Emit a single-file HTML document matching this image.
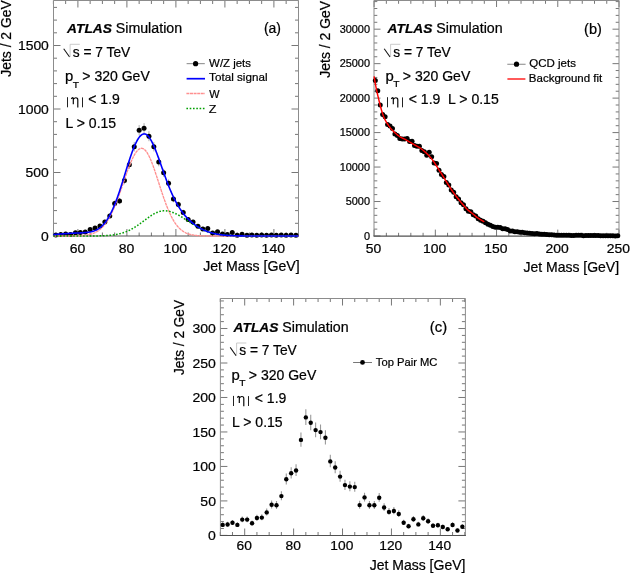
<!DOCTYPE html>
<html><head><meta charset="utf-8"><style>
html,body{margin:0;padding:0;background:#fff;}
svg{display:block;font-family:"Liberation Sans", sans-serif;will-change:transform;}
text{stroke:#000;stroke-width:0.22px;}
</style></head><body>
<svg width="630" height="573" viewBox="0 0 630 573">
<rect width="630" height="573" fill="#fff"/>
<g>
<path d="M53.4 236v-3.5M53.4 0.5v3.5M65.65 236v-3.5M65.65 0.5v3.5M77.9 236v-7M77.9 0.5v7M90.15 236v-3.5M90.15 0.5v3.5M102.4 236v-3.5M102.4 0.5v3.5M114.65 236v-3.5M114.65 0.5v3.5M126.9 236v-7M126.9 0.5v7M139.15 236v-3.5M139.15 0.5v3.5M151.4 236v-3.5M151.4 0.5v3.5M163.65 236v-3.5M163.65 0.5v3.5M175.9 236v-7M175.9 0.5v7M188.15 236v-3.5M188.15 0.5v3.5M200.4 236v-3.5M200.4 0.5v3.5M212.65 236v-3.5M212.65 0.5v3.5M224.9 236v-7M224.9 0.5v7M237.15 236v-3.5M237.15 0.5v3.5M249.4 236v-3.5M249.4 0.5v3.5M261.65 236v-3.5M261.65 0.5v3.5M273.9 236v-7M273.9 0.5v7M286.15 236v-3.5M286.15 0.5v3.5M298.4 236v-3.5M298.4 0.5v3.5M53.5 236h7M298.5 236h-7M53.5 223.3h3.5M298.5 223.3h-3.5M53.5 210.6h3.5M298.5 210.6h-3.5M53.5 197.9h3.5M298.5 197.9h-3.5M53.5 185.2h3.5M298.5 185.2h-3.5M53.5 172.5h7M298.5 172.5h-7M53.5 159.8h3.5M298.5 159.8h-3.5M53.5 147.1h3.5M298.5 147.1h-3.5M53.5 134.4h3.5M298.5 134.4h-3.5M53.5 121.7h3.5M298.5 121.7h-3.5M53.5 109h7M298.5 109h-7M53.5 96.3h3.5M298.5 96.3h-3.5M53.5 83.6h3.5M298.5 83.6h-3.5M53.5 70.9h3.5M298.5 70.9h-3.5M53.5 58.2h3.5M298.5 58.2h-3.5M53.5 45.5h7M298.5 45.5h-7M53.5 32.8h3.5M298.5 32.8h-3.5M53.5 20.1h3.5M298.5 20.1h-3.5M53.5 7.4h3.5M298.5 7.4h-3.5" stroke="#777" stroke-width="1" fill="none"/>
<path d="M53.5 236V0.5H298.5V236" stroke="#8c8c8c" stroke-width="1" fill="none"/>
<path d="M53 236H299" stroke="#505050" stroke-width="1.2" fill="none"/>
<path d="M55.85 234.05V235.95M60.75 233.33V235.47M65.65 232.98V235.22M70.55 233.57V235.63M75.45 231.5V234.1M80.35 231.27V233.93M85.25 230.71V233.49M90.15 227.85V231.15M95.05 226.23V229.77M99.95 224.18V228.02M104.85 219.71V224.09M109.75 213.49V218.51M114.65 200.43V206.57M119.55 197.94V204.26M124.45 176.54V184.26M129.35 160.4V169M134.25 141.95V151.45M139.15 125.07V135.33M144.05 123.13V133.47M148.95 131.2V141.2M153.85 141.95V151.45M158.75 157.53V166.27M163.65 168.72V176.88M168.55 179.43V186.97M173.45 195.76V202.24M178.35 201.37V207.43M183.25 209.71V215.09M188.15 217.28V221.92M193.05 219.71V224.09M197.95 224.4V228.2M202.85 227.2V230.6M207.75 226.88V230.32M212.65 231.83V234.37M217.55 230.38V233.22M222.45 232.86V235.14M227.35 233.57V235.63M232.25 231.05V233.75M237.15 234.3V236.1M242.05 233.21V235.39M246.95 234.3V236.1M251.85 233.93V235.87M256.75 234.3V236.1M261.65 233.93V235.87M266.55 234.3V236.1M271.45 233.93V235.87M276.35 234.3V236.1M281.25 233.93V235.87M286.15 234.3V236.1M291.05 233.93V235.87M295.95 234.3V236.1" stroke="#999" stroke-width="0.8"/>
<g><circle cx="55.85" cy="235" r="2.5"/><circle cx="60.75" cy="234.4" r="2.5"/><circle cx="65.65" cy="234.1" r="2.5"/><circle cx="70.55" cy="234.6" r="2.5"/><circle cx="75.45" cy="232.8" r="2.5"/><circle cx="80.35" cy="232.6" r="2.5"/><circle cx="85.25" cy="232.1" r="2.5"/><circle cx="90.15" cy="229.5" r="2.5"/><circle cx="95.05" cy="228" r="2.5"/><circle cx="99.95" cy="226.1" r="2.5"/><circle cx="104.85" cy="221.9" r="2.5"/><circle cx="109.75" cy="216" r="2.5"/><circle cx="114.65" cy="203.5" r="2.5"/><circle cx="119.55" cy="201.1" r="2.5"/><circle cx="124.45" cy="180.4" r="2.5"/><circle cx="129.35" cy="164.7" r="2.5"/><circle cx="134.25" cy="146.7" r="2.5"/><circle cx="139.15" cy="130.2" r="2.5"/><circle cx="144.05" cy="128.3" r="2.5"/><circle cx="148.95" cy="136.2" r="2.5"/><circle cx="153.85" cy="146.7" r="2.5"/><circle cx="158.75" cy="161.9" r="2.5"/><circle cx="163.65" cy="172.8" r="2.5"/><circle cx="168.55" cy="183.2" r="2.5"/><circle cx="173.45" cy="199" r="2.5"/><circle cx="178.35" cy="204.4" r="2.5"/><circle cx="183.25" cy="212.4" r="2.5"/><circle cx="188.15" cy="219.6" r="2.5"/><circle cx="193.05" cy="221.9" r="2.5"/><circle cx="197.95" cy="226.3" r="2.5"/><circle cx="202.85" cy="228.9" r="2.5"/><circle cx="207.75" cy="228.6" r="2.5"/><circle cx="212.65" cy="233.1" r="2.5"/><circle cx="217.55" cy="231.8" r="2.5"/><circle cx="222.45" cy="234" r="2.5"/><circle cx="227.35" cy="234.6" r="2.5"/><circle cx="232.25" cy="232.4" r="2.5"/><circle cx="237.15" cy="235.2" r="2.5"/><circle cx="242.05" cy="234.3" r="2.5"/><circle cx="246.95" cy="235.2" r="2.5"/><circle cx="251.85" cy="234.9" r="2.5"/><circle cx="256.75" cy="235.2" r="2.5"/><circle cx="261.65" cy="234.9" r="2.5"/><circle cx="266.55" cy="235.2" r="2.5"/><circle cx="271.45" cy="234.9" r="2.5"/><circle cx="276.35" cy="235.2" r="2.5"/><circle cx="281.25" cy="234.9" r="2.5"/><circle cx="286.15" cy="235.2" r="2.5"/><circle cx="291.05" cy="234.9" r="2.5"/><circle cx="295.95" cy="235.2" r="2.5"/></g>
<path d="M53.4 236L54.01 236L54.62 236L55.24 236L55.85 236L56.46 236L57.07 236L57.69 236L58.3 236L58.91 236L59.52 236L60.14 236L60.75 236L61.36 235.99L61.97 235.99L62.59 235.99L63.2 235.99L63.81 235.99L64.42 235.99L65.04 235.99L65.65 235.98L66.26 235.98L66.88 235.98L67.49 235.98L68.1 235.97L68.71 235.97L69.32 235.97L69.94 235.96L70.55 235.96L71.16 235.95L71.77 235.94L72.39 235.93L73 235.92L73.61 235.91L74.22 235.9L74.84 235.89L75.45 235.88L76.06 235.86L76.67 235.84L77.29 235.82L77.9 235.8L78.51 235.78L79.12 235.75L79.74 235.72L80.35 235.69L80.96 235.65L81.57 235.61L82.19 235.56L82.8 235.51L83.41 235.46L84.02 235.39L84.64 235.33L85.25 235.25L85.86 235.17L86.47 235.08L87.09 234.99L87.7 234.88L88.31 234.76L88.92 234.64L89.54 234.5L90.15 234.35L90.76 234.19L91.38 234.01L91.99 233.82L92.6 233.61L93.21 233.39L93.82 233.15L94.44 232.89L95.05 232.61L95.66 232.31L96.27 231.98L96.89 231.64L97.5 231.26L98.11 230.87L98.72 230.44L99.34 229.99L99.95 229.51L100.56 229L101.17 228.45L101.79 227.87L102.4 227.26L103.01 226.61L103.62 225.93L104.24 225.21L104.85 224.45L105.46 223.65L106.07 222.8L106.69 221.92L107.3 221L107.91 220.03L108.52 219.02L109.14 217.96L109.75 216.87L110.36 215.72L110.97 214.54L111.59 213.31L112.2 212.03L112.81 210.72L113.42 209.36L114.04 207.96L114.65 206.52L115.26 205.03L115.88 203.52L116.49 201.96L117.1 200.37L117.71 198.75L118.32 197.1L118.94 195.43L119.55 193.72L120.16 192L120.77 190.26L121.39 188.5L122 186.73L122.61 184.95L123.22 183.16L123.84 181.38L124.45 179.6L125.06 177.82L125.67 176.06L126.29 174.32L126.9 172.59L127.51 170.89L128.12 169.22L128.74 167.58L129.35 165.99L129.96 164.43L130.57 162.92L131.19 161.47L131.8 160.07L132.41 158.74L133.02 157.46L133.64 156.26L134.25 155.13L134.86 154.08L135.47 153.1L136.09 152.21L136.7 151.4L137.31 150.69L137.92 150.06L138.54 149.53L139.15 149.09L139.76 148.74L140.37 148.5L140.99 148.35L141.6 148.3L142.21 148.36L142.82 148.52L143.44 148.8L144.05 149.19L144.66 149.69L145.27 150.29L145.89 151L146.5 151.81L147.11 152.72L147.72 153.72L148.34 154.81L148.95 156L149.56 157.26L150.17 158.61L150.79 160.02L151.4 161.51L152.01 163.06L152.62 164.67L153.24 166.34L153.85 168.05L154.46 169.8L155.07 171.59L155.69 173.41L156.3 175.26L156.91 177.13L157.52 179.01L158.14 180.91L158.75 182.81L159.36 184.71L159.97 186.6L160.59 188.49L161.2 190.36L161.81 192.21L162.42 194.04L163.04 195.85L163.65 197.63L164.26 199.37L164.87 201.08L165.49 202.76L166.1 204.39L166.71 205.98L167.32 207.53L167.94 209.03L168.55 210.49L169.16 211.89L169.77 213.25L170.39 214.56L171 215.82L171.61 217.03L172.22 218.19L172.84 219.3L173.45 220.37L174.06 221.38L174.67 222.34L175.29 223.26L175.9 224.13L176.51 224.96L177.12 225.74L177.74 226.48L178.35 227.17L178.96 227.83L179.57 228.44L180.19 229.02L180.8 229.57L181.41 230.07L182.02 230.55L182.64 230.99L183.25 231.41L183.86 231.79L184.47 232.15L185.09 232.48L185.7 232.79L186.31 233.07L186.92 233.33L187.54 233.57L188.15 233.8L188.76 234L189.38 234.19L189.99 234.36L190.6 234.52L191.21 234.66L191.82 234.8L192.44 234.92L193.05 235.03L193.66 235.13L194.27 235.22L194.89 235.3L195.5 235.37L196.11 235.44L196.72 235.5L197.34 235.55L197.95 235.6L198.56 235.65L199.17 235.69L199.79 235.72L200.4 235.75L201.01 235.78L201.62 235.81L202.24 235.83L202.85 235.85L203.46 235.87L204.07 235.88L204.69 235.9L205.3 235.91L205.91 235.92L206.52 235.93L207.14 235.94L207.75 235.95L208.36 235.96L208.97 235.96L209.59 235.97L210.2 235.97L210.81 235.97L211.42 235.98L212.04 235.98L212.65 235.98L213.26 235.99L213.88 235.99L214.49 235.99L215.1 235.99L215.71 235.99L216.32 235.99L216.94 235.99L217.55 236L218.16 236L218.77 236L219.39 236L220 236L220.61 236L221.22 236L221.84 236L222.45 236L223.06 236L223.67 236L224.29 236L224.9 236L225.51 236L226.12 236L226.74 236L227.35 236L227.96 236L228.57 236L229.19 236L229.8 236L230.41 236L231.02 236L231.64 236L232.25 236L232.86 236L233.47 236L234.09 236L234.7 236L235.31 236L235.92 236L236.54 236L237.15 236L237.76 236L238.37 236L238.99 236L239.6 236L240.21 236L240.82 236L241.44 236L242.05 236L242.66 236L243.27 236L243.89 236L244.5 236L245.11 236L245.72 236L246.34 236L246.95 236L247.56 236L248.17 236L248.79 236L249.4 236L250.01 236L250.62 236L251.24 236L251.85 236L252.46 236L253.07 236L253.69 236L254.3 236L254.91 236L255.52 236L256.14 236L256.75 236L257.36 236L257.97 236L258.59 236L259.2 236L259.81 236L260.42 236L261.04 236L261.65 236L262.26 236L262.87 236L263.49 236L264.1 236L264.71 236L265.32 236L265.94 236L266.55 236L267.16 236L267.77 236L268.39 236L269 236L269.61 236L270.22 236L270.84 236L271.45 236L272.06 236L272.67 236L273.29 236L273.9 236L274.51 236L275.12 236L275.74 236L276.35 236L276.96 236L277.57 236L278.19 236L278.8 236L279.41 236L280.02 236L280.64 236L281.25 236L281.86 236L282.47 236L283.09 236L283.7 236L284.31 236L284.92 236L285.54 236L286.15 236L286.76 236L287.37 236L287.99 236L288.6 236L289.21 236L289.82 236L290.44 236L291.05 236L291.66 236L292.27 236L292.89 236L293.5 236L294.11 236L294.72 236L295.34 236L295.95 236L296.56 236L297.17 236L297.79 236L298.4 236" stroke="#ff8f8f" stroke-width="1.35" fill="none" stroke-dasharray="3 0.6"/>
<path d="M53.4 236L54.01 236L54.62 236L55.24 236L55.85 236L56.46 236L57.07 236L57.69 236L58.3 236L58.91 236L59.52 236L60.14 236L60.75 236L61.36 236L61.97 236L62.59 236L63.2 236L63.81 236L64.42 236L65.04 236L65.65 236L66.26 236L66.88 236L67.49 236L68.1 236L68.71 236L69.32 236L69.94 236L70.55 236L71.16 236L71.77 236L72.39 236L73 236L73.61 236L74.22 236L74.84 236L75.45 236L76.06 236L76.67 236L77.29 236L77.9 236L78.51 236L79.12 236L79.74 236L80.35 236L80.96 235.99L81.57 235.99L82.19 235.99L82.8 235.99L83.41 235.99L84.02 235.99L84.64 235.99L85.25 235.99L85.86 235.99L86.47 235.98L87.09 235.98L87.7 235.98L88.31 235.98L88.92 235.97L89.54 235.97L90.15 235.97L90.76 235.96L91.38 235.96L91.99 235.96L92.6 235.95L93.21 235.94L93.82 235.94L94.44 235.93L95.05 235.92L95.66 235.92L96.27 235.91L96.89 235.9L97.5 235.89L98.11 235.88L98.72 235.86L99.34 235.85L99.95 235.83L100.56 235.82L101.17 235.8L101.79 235.78L102.4 235.76L103.01 235.73L103.62 235.71L104.24 235.68L104.85 235.65L105.46 235.62L106.07 235.59L106.69 235.55L107.3 235.51L107.91 235.47L108.52 235.42L109.14 235.37L109.75 235.32L110.36 235.26L110.97 235.2L111.59 235.13L112.2 235.06L112.81 234.99L113.42 234.91L114.04 234.82L114.65 234.73L115.26 234.64L115.88 234.54L116.49 234.43L117.1 234.31L117.71 234.19L118.32 234.06L118.94 233.93L119.55 233.78L120.16 233.63L120.77 233.47L121.39 233.31L122 233.13L122.61 232.94L123.22 232.75L123.84 232.55L124.45 232.34L125.06 232.11L125.67 231.88L126.29 231.64L126.9 231.39L127.51 231.13L128.12 230.86L128.74 230.58L129.35 230.29L129.96 229.99L130.57 229.67L131.19 229.35L131.8 229.02L132.41 228.68L133.02 228.33L133.64 227.97L134.25 227.6L134.86 227.22L135.47 226.83L136.09 226.43L136.7 226.03L137.31 225.61L137.92 225.19L138.54 224.77L139.15 224.33L139.76 223.89L140.37 223.45L140.99 223L141.6 222.55L142.21 222.09L142.82 221.64L143.44 221.18L144.05 220.72L144.66 220.26L145.27 219.8L145.89 219.34L146.5 218.88L147.11 218.43L147.72 217.98L148.34 217.54L148.95 217.11L149.56 216.68L150.17 216.26L150.79 215.85L151.4 215.45L152.01 215.06L152.62 214.68L153.24 214.32L153.85 213.96L154.46 213.63L155.07 213.31L155.69 213L156.3 212.72L156.91 212.45L157.52 212.19L158.14 211.96L158.75 211.75L159.36 211.56L159.97 211.39L160.59 211.24L161.2 211.11L161.81 211L162.42 210.92L163.04 210.86L163.65 210.82L164.26 210.8L164.87 210.81L165.49 210.83L166.1 210.87L166.71 210.93L167.32 211L167.94 211.1L168.55 211.21L169.16 211.34L169.77 211.48L170.39 211.64L171 211.82L171.61 212.01L172.22 212.22L172.84 212.44L173.45 212.68L174.06 212.93L174.67 213.19L175.29 213.47L175.9 213.76L176.51 214.06L177.12 214.38L177.74 214.7L178.35 215.03L178.96 215.37L179.57 215.73L180.19 216.09L180.8 216.45L181.41 216.83L182.02 217.21L182.64 217.59L183.25 217.98L183.86 218.38L184.47 218.78L185.09 219.18L185.7 219.58L186.31 219.98L186.92 220.39L187.54 220.8L188.15 221.2L188.76 221.61L189.38 222.01L189.99 222.42L190.6 222.82L191.21 223.21L191.82 223.61L192.44 224L193.05 224.39L193.66 224.77L194.27 225.15L194.89 225.52L195.5 225.88L196.11 226.24L196.72 226.6L197.34 226.95L197.95 227.29L198.56 227.62L199.17 227.95L199.79 228.27L200.4 228.58L201.01 228.89L201.62 229.18L202.24 229.47L202.85 229.75L203.46 230.03L204.07 230.29L204.69 230.55L205.3 230.8L205.91 231.04L206.52 231.28L207.14 231.5L207.75 231.72L208.36 231.93L208.97 232.13L209.59 232.33L210.2 232.52L210.81 232.7L211.42 232.87L212.04 233.04L212.65 233.2L213.26 233.35L213.88 233.5L214.49 233.64L215.1 233.77L215.71 233.9L216.32 234.02L216.94 234.13L217.55 234.25L218.16 234.35L218.77 234.45L219.39 234.55L220 234.64L220.61 234.72L221.22 234.8L221.84 234.88L222.45 234.95L223.06 235.02L223.67 235.08L224.29 235.14L224.9 235.2L225.51 235.26L226.12 235.31L226.74 235.35L227.35 235.4L227.96 235.44L228.57 235.48L229.19 235.52L229.8 235.55L230.41 235.59L231.02 235.62L231.64 235.65L232.25 235.67L232.86 235.7L233.47 235.72L234.09 235.74L234.7 235.76L235.31 235.78L235.92 235.8L236.54 235.81L237.15 235.83L237.76 235.84L238.37 235.86L238.99 235.87L239.6 235.88L240.21 235.89L240.82 235.9L241.44 235.91L242.05 235.91L242.66 235.92L243.27 235.93L243.89 235.93L244.5 235.94L245.11 235.95L245.72 235.95L246.34 235.96L246.95 235.96L247.56 235.96L248.17 235.97L248.79 235.97L249.4 235.97L250.01 235.97L250.62 235.98L251.24 235.98L251.85 235.98L252.46 235.98L253.07 235.98L253.69 235.99L254.3 235.99L254.91 235.99L255.52 235.99L256.14 235.99L256.75 235.99L257.36 235.99L257.97 235.99L258.59 235.99L259.2 235.99L259.81 236L260.42 236L261.04 236L261.65 236L262.26 236L262.87 236L263.49 236L264.1 236L264.71 236L265.32 236L265.94 236L266.55 236L267.16 236L267.77 236L268.39 236L269 236L269.61 236L270.22 236L270.84 236L271.45 236L272.06 236L272.67 236L273.29 236L273.9 236L274.51 236L275.12 236L275.74 236L276.35 236L276.96 236L277.57 236L278.19 236L278.8 236L279.41 236L280.02 236L280.64 236L281.25 236L281.86 236L282.47 236L283.09 236L283.7 236L284.31 236L284.92 236L285.54 236L286.15 236L286.76 236L287.37 236L287.99 236L288.6 236L289.21 236L289.82 236L290.44 236L291.05 236L291.66 236L292.27 236L292.89 236L293.5 236L294.11 236L294.72 236L295.34 236L295.95 236L296.56 236L297.17 236L297.79 236L298.4 236" stroke="#00a000" stroke-width="1.5" fill="none" stroke-dasharray="1.6 1.7"/>
<path d="M53.4 234.6L54.01 234.55L54.62 234.5L55.24 234.45L55.85 234.4L56.46 234.35L57.07 234.3L57.69 234.25L58.3 234.2L58.91 234.15L59.52 234.1L60.14 234.05L60.75 234L61.36 233.95L61.97 233.91L62.59 233.86L63.2 233.81L63.81 233.76L64.42 233.72L65.04 233.67L65.65 233.63L66.26 233.59L66.88 233.55L67.49 233.51L68.1 233.47L68.71 233.43L69.32 233.39L69.94 233.36L70.55 233.32L71.16 233.29L71.77 233.26L72.39 233.23L73 233.2L73.61 233.17L74.22 233.15L74.84 233.12L75.45 233.09L76.06 233.07L76.67 233.05L77.29 233.02L77.9 233L78.51 232.97L79.12 232.95L79.74 232.93L80.35 232.9L80.96 232.87L81.57 232.84L82.19 232.81L82.8 232.78L83.41 232.74L84.02 232.7L84.64 232.66L85.25 232.61L85.86 232.56L86.47 232.5L87.09 232.43L87.7 232.35L88.31 232.27L88.92 232.18L89.54 232.08L90.15 231.96L90.76 231.84L91.38 231.7L91.99 231.55L92.6 231.38L93.21 231.2L93.82 231L94.44 230.78L95.05 230.54L95.66 230.28L96.27 230L96.89 229.69L97.5 229.36L98.11 229L98.72 228.61L99.34 228.19L99.95 227.75L100.56 227.27L101.17 226.75L101.79 226.21L102.4 225.62L103.01 225L103.62 224.34L104.24 223.64L104.85 222.89L105.46 222.1L106.07 221.27L106.69 220.4L107.3 219.48L107.91 218.51L108.52 217.49L109.14 216.43L109.75 215.32L110.36 214.16L110.97 212.95L111.59 211.69L112.2 210.38L112.81 209.02L113.42 207.62L114.04 206.16L114.65 204.66L115.26 203.12L115.88 201.52L116.49 199.89L117.1 198.21L117.71 196.5L118.32 194.74L118.94 192.95L119.55 191.13L120.16 189.28L120.77 187.4L121.39 185.49L122 183.56L122.61 181.62L123.22 179.66L123.84 177.68L124.45 175.71L125.06 173.73L125.67 171.75L126.29 169.77L126.9 167.81L127.51 165.86L128.12 163.93L128.74 162.02L129.35 160.14L129.96 158.29L130.57 156.49L131.19 154.72L131.8 153L132.41 151.32L133.02 149.71L133.64 148.15L134.25 146.65L134.86 145.23L135.47 143.87L136.09 142.58L136.7 141.38L137.31 140.25L137.92 139.21L138.54 138.25L139.15 137.38L139.76 136.6L140.37 135.92L140.99 135.32L141.6 134.82L142.21 134.43L142.82 134.14L143.44 133.96L144.05 133.89L144.66 133.93L145.27 134.07L145.89 134.32L146.5 134.68L147.11 135.14L147.72 135.69L148.34 136.35L148.95 137.09L149.56 137.93L150.17 138.86L150.79 139.87L151.4 140.95L152.01 142.12L152.62 143.35L153.24 144.65L153.85 146.01L154.46 147.43L155.07 148.9L155.69 150.41L156.3 151.97L156.91 153.57L157.52 155.21L158.14 156.87L158.75 158.56L159.36 160.26L159.97 161.98L160.59 163.72L161.2 165.46L161.81 167.21L162.42 168.96L163.04 170.7L163.65 172.44L164.26 174.17L164.87 175.89L165.49 177.58L166.1 179.26L166.71 180.91L167.32 182.53L167.94 184.13L168.55 185.69L169.16 187.23L169.77 188.73L170.39 190.2L171 191.64L171.61 193.04L172.22 194.41L172.84 195.75L173.45 197.04L174.06 198.31L174.67 199.54L175.29 200.73L175.9 201.89L176.51 203.02L177.12 204.11L177.74 205.17L178.35 206.2L178.96 207.2L179.57 208.17L180.19 209.11L180.8 210.02L181.41 210.9L182.02 211.76L182.64 212.58L183.25 213.39L183.86 214.17L184.47 214.92L185.09 215.65L185.7 216.36L186.31 217.05L186.92 217.72L187.54 218.37L188.15 219L188.76 219.61L189.38 220.2L189.99 220.78L190.6 221.34L191.21 221.88L191.82 222.4L192.44 222.92L193.05 223.41L193.66 223.89L194.27 224.36L194.89 224.81L195.5 225.26L196.11 225.68L196.72 226.1L197.34 226.5L197.95 226.89L198.56 227.27L199.17 227.64L199.79 227.99L200.4 228.34L201.01 228.67L201.62 228.99L202.24 229.3L202.85 229.6L203.46 229.9L204.07 230.18L204.69 230.45L205.3 230.71L205.91 230.96L206.52 231.21L207.14 231.44L207.75 231.67L208.36 231.89L208.97 232.09L209.59 232.29L210.2 232.49L210.81 232.67L211.42 232.85L212.04 233.02L212.65 233.18L213.26 233.34L213.88 233.48L214.49 233.63L215.1 233.76L215.71 233.89L216.32 234.01L216.94 234.13L217.55 234.24L218.16 234.35L218.77 234.45L219.39 234.54L220 234.63L220.61 234.72L221.22 234.8L221.84 234.88L222.45 234.95L223.06 235.02L223.67 235.08L224.29 235.14L224.9 235.2L225.51 235.26L226.12 235.31L226.74 235.35L227.35 235.4L227.96 235.44L228.57 235.48L229.19 235.52L229.8 235.55L230.41 235.59L231.02 235.62L231.64 235.65L232.25 235.67L232.86 235.7L233.47 235.72L234.09 235.74L234.7 235.76L235.31 235.78L235.92 235.8L236.54 235.81L237.15 235.83L237.76 235.84L238.37 235.86L238.99 235.87L239.6 235.88L240.21 235.89L240.82 235.9L241.44 235.91L242.05 235.91L242.66 235.92L243.27 235.93L243.89 235.93L244.5 235.94L245.11 235.95L245.72 235.95L246.34 235.96L246.95 235.96L247.56 235.96L248.17 235.97L248.79 235.97L249.4 235.97L250.01 235.97L250.62 235.98L251.24 235.98L251.85 235.98L252.46 235.98L253.07 235.98L253.69 235.99L254.3 235.99L254.91 235.99L255.52 235.99L256.14 235.99L256.75 235.99L257.36 235.99L257.97 235.99L258.59 235.99L259.2 235.99L259.81 236L260.42 236L261.04 236L261.65 236L262.26 236L262.87 236L263.49 236L264.1 236L264.71 236L265.32 236L265.94 236L266.55 236L267.16 236L267.77 236L268.39 236L269 236L269.61 236L270.22 236L270.84 236L271.45 236L272.06 236L272.67 236L273.29 236L273.9 236L274.51 236L275.12 236L275.74 236L276.35 236L276.96 236L277.57 236L278.19 236L278.8 236L279.41 236L280.02 236L280.64 236L281.25 236L281.86 236L282.47 236L283.09 236L283.7 236L284.31 236L284.92 236L285.54 236L286.15 236L286.76 236L287.37 236L287.99 236L288.6 236L289.21 236L289.82 236L290.44 236L291.05 236L291.66 236L292.27 236L292.89 236L293.5 236L294.11 236L294.72 236L295.34 236L295.95 236L296.56 236L297.17 236L297.79 236L298.4 236" stroke="#0000ff" stroke-width="1.6" fill="none"/>
<text x="41.1" y="240.6" font-size="13" textLength="7.74" lengthAdjust="spacingAndGlyphs">0</text>
<text x="25.63" y="177.1" font-size="13" textLength="23.21" lengthAdjust="spacingAndGlyphs">500</text>
<text x="17.91" y="113.6" font-size="13" textLength="30.95" lengthAdjust="spacingAndGlyphs">1000</text>
<text x="17.91" y="50.1" font-size="13" textLength="30.95" lengthAdjust="spacingAndGlyphs">1500</text>
<text x="69.72" y="253" font-size="13" textLength="15.62" lengthAdjust="spacingAndGlyphs">60</text>
<text x="118.77" y="253" font-size="13" textLength="15.62" lengthAdjust="spacingAndGlyphs">80</text>
<text x="163.63" y="253" font-size="13" textLength="23.43" lengthAdjust="spacingAndGlyphs">100</text>
<text x="212.63" y="253" font-size="13" textLength="23.43" lengthAdjust="spacingAndGlyphs">120</text>
<text x="261.63" y="253" font-size="13" textLength="23.43" lengthAdjust="spacingAndGlyphs">140</text>
<text x="203.19" y="271.4" font-size="13.9" textLength="96.41" lengthAdjust="spacingAndGlyphs">Jet Mass [GeV]</text>
<text transform="translate(10.9 76.71) rotate(-90)" font-size="14.3" textLength="76.48" lengthAdjust="spacingAndGlyphs">Jets / 2 GeV</text>
<text x="67.08" y="32.9" font-size="13.6" font-weight="bold" font-style="italic" textLength="44.85" lengthAdjust="spacingAndGlyphs">ATLAS</text>
<text x="115.76" y="32.9" font-size="13.8" textLength="66.35" lengthAdjust="spacingAndGlyphs">Simulation</text>
<path d="M63.7 48.7L69.6 57" stroke="#111" stroke-width="1.05" fill="none"/>
<path d="M70.1 57V44.3H79.8" stroke="#b4b4b4" stroke-width="0.7" fill="none"/>
<text x="72.72" y="56.7" font-size="13.8" textLength="57.53" lengthAdjust="spacingAndGlyphs">s = 7 TeV</text>
<text x="65.13" y="81.2" font-size="13.8" textLength="8.28" lengthAdjust="spacingAndGlyphs">p</text>
<text x="72.77" y="87.5" font-size="9.6" textLength="6.27" lengthAdjust="spacingAndGlyphs">T</text>
<text x="82.3" y="81.2" font-size="13.8" textLength="67.46" lengthAdjust="spacingAndGlyphs">&gt; 320 GeV</text>
<path d="M67.5 97.2V107.3M82.5 97.4V107.3" stroke="#222" stroke-width="1" fill="none"/>
<path d="M71.2 98.8L72.5 97.7L73.3 98.1V104.3M73.3 99.7C73.9 97.4 77.8 96.9 77.8 99.7V107.6" stroke="#000" stroke-width="1.15" fill="none"/>
<text x="88.3" y="104.3" font-size="13.8" textLength="31.56" lengthAdjust="spacingAndGlyphs">&lt; 1.9</text>
<text x="65.64" y="128" font-size="13.8" textLength="50.52" lengthAdjust="spacingAndGlyphs">L &gt; 0.15</text>
<text x="263.93" y="33.2" font-size="13.8" textLength="17.11" lengthAdjust="spacingAndGlyphs">(a)</text>
<path d="M186.6 63.6H204.8" stroke="#9a9a9a" stroke-width="1.2"/><circle cx="195.6" cy="63.7" r="2.6"/>
<path d="M186.6 78.7H205" stroke="#0000ff" stroke-width="1.7"/>
<path d="M186.4 93.5H205" stroke="#ff8f8f" stroke-width="1.35" stroke-dasharray="3 0.6"/>
<path d="M186.4 108.5H205" stroke="#00a000" stroke-width="1.5" stroke-dasharray="1.6 1.7"/>
<text x="209.14" y="67" font-size="11.4" textLength="41.85" lengthAdjust="spacingAndGlyphs">W/Z jets</text>
<text x="209.14" y="81.2" font-size="11.4" textLength="58.36" lengthAdjust="spacingAndGlyphs">Total signal</text>
<text x="209.15" y="97.5" font-size="11.4" textLength="10.3" lengthAdjust="spacingAndGlyphs">W</text>
<text x="208.79" y="112.6" font-size="11.4" textLength="7.7" lengthAdjust="spacingAndGlyphs">Z</text>
</g>
<g>
<path d="M374.1 236.1v-6.5M374.1 0.5v6.5M386.35 236.1v-3.3M386.35 0.5v3.3M398.59 236.1v-3.3M398.59 0.5v3.3M410.84 236.1v-3.3M410.84 0.5v3.3M423.08 236.1v-3.3M423.08 0.5v3.3M435.33 236.1v-6.5M435.33 0.5v6.5M447.57 236.1v-3.3M447.57 0.5v3.3M459.82 236.1v-3.3M459.82 0.5v3.3M472.06 236.1v-3.3M472.06 0.5v3.3M484.31 236.1v-3.3M484.31 0.5v3.3M496.55 236.1v-6.5M496.55 0.5v6.5M508.8 236.1v-3.3M508.8 0.5v3.3M521.04 236.1v-3.3M521.04 0.5v3.3M533.28 236.1v-3.3M533.28 0.5v3.3M545.53 236.1v-3.3M545.53 0.5v3.3M557.78 236.1v-6.5M557.78 0.5v6.5M570.02 236.1v-3.3M570.02 0.5v3.3M582.26 236.1v-3.3M582.26 0.5v3.3M594.51 236.1v-3.3M594.51 0.5v3.3M606.75 236.1v-3.3M606.75 0.5v3.3M619 236.1v-6.5M619 0.5v6.5M374 236h6.5M619 236h-6.5M374 229.11h3.3M619 229.11h-3.3M374 222.21h3.3M619 222.21h-3.3M374 215.32h3.3M619 215.32h-3.3M374 208.42h3.3M619 208.42h-3.3M374 201.53h6.5M619 201.53h-6.5M374 194.64h3.3M619 194.64h-3.3M374 187.74h3.3M619 187.74h-3.3M374 180.85h3.3M619 180.85h-3.3M374 173.95h3.3M619 173.95h-3.3M374 167.06h6.5M619 167.06h-6.5M374 160.17h3.3M619 160.17h-3.3M374 153.27h3.3M619 153.27h-3.3M374 146.38h3.3M619 146.38h-3.3M374 139.48h3.3M619 139.48h-3.3M374 132.59h6.5M619 132.59h-6.5M374 125.7h3.3M619 125.7h-3.3M374 118.8h3.3M619 118.8h-3.3M374 111.91h3.3M619 111.91h-3.3M374 105.01h3.3M619 105.01h-3.3M374 98.12h6.5M619 98.12h-6.5M374 91.23h3.3M619 91.23h-3.3M374 84.33h3.3M619 84.33h-3.3M374 77.44h3.3M619 77.44h-3.3M374 70.54h3.3M619 70.54h-3.3M374 63.65h6.5M619 63.65h-6.5M374 56.76h3.3M619 56.76h-3.3M374 49.86h3.3M619 49.86h-3.3M374 42.97h3.3M619 42.97h-3.3M374 36.07h3.3M619 36.07h-3.3M374 29.18h6.5M619 29.18h-6.5M374 22.29h3.3M619 22.29h-3.3M374 15.39h3.3M619 15.39h-3.3M374 8.5h3.3M619 8.5h-3.3M374 1.6h3.3M619 1.6h-3.3" stroke="#777" stroke-width="1" fill="none"/>
<path d="M374 236.1V0.5H619V236.1" stroke="#8c8c8c" stroke-width="1" fill="none"/>
<path d="M373.5 236.1H619.5" stroke="#505050" stroke-width="1.2" fill="none"/>
<g><circle cx="375.32" cy="80.5" r="2.5"/><circle cx="377.77" cy="90.7" r="2.5"/><circle cx="380.22" cy="104.9" r="2.5"/><circle cx="382.67" cy="114.4" r="2.5"/><circle cx="385.12" cy="116.8" r="2.5"/><circle cx="387.57" cy="124.5" r="2.5"/><circle cx="390.02" cy="125.9" r="2.5"/><circle cx="392.47" cy="128.6" r="2.5"/><circle cx="394.92" cy="134" r="2.5"/><circle cx="397.37" cy="135.5" r="2.5"/><circle cx="399.81" cy="138.6" r="2.5"/><circle cx="402.26" cy="139.1" r="2.5"/><circle cx="404.71" cy="139" r="2.5"/><circle cx="407.16" cy="138.4" r="2.5"/><circle cx="409.61" cy="141.6" r="2.5"/><circle cx="412.06" cy="141.2" r="2.5"/><circle cx="414.51" cy="145.4" r="2.5"/><circle cx="416.96" cy="146.19" r="2.5"/><circle cx="419.41" cy="146.37" r="2.5"/><circle cx="421.86" cy="150.43" r="2.5"/><circle cx="424.3" cy="151.81" r="2.5"/><circle cx="426.75" cy="155.17" r="2.5"/><circle cx="429.2" cy="152.2" r="2.5"/><circle cx="431.65" cy="156.87" r="2.5"/><circle cx="434.1" cy="163.1" r="2.5"/><circle cx="436.55" cy="163.5" r="2.5"/><circle cx="439" cy="170.33" r="2.5"/><circle cx="441.45" cy="174.5" r="2.5"/><circle cx="443.9" cy="176.61" r="2.5"/><circle cx="446.35" cy="182.38" r="2.5"/><circle cx="448.79" cy="184.92" r="2.5"/><circle cx="451.24" cy="190.02" r="2.5"/><circle cx="453.69" cy="192.13" r="2.5"/><circle cx="456.14" cy="196.8" r="2.5"/><circle cx="458.59" cy="198.9" r="2.5"/><circle cx="461.04" cy="202.65" r="2.5"/><circle cx="463.49" cy="204.74" r="2.5"/><circle cx="465.94" cy="208.79" r="2.5"/><circle cx="468.39" cy="211.22" r="2.5"/><circle cx="470.84" cy="211.84" r="2.5"/><circle cx="473.28" cy="214.8" r="2.5"/><circle cx="475.73" cy="215.93" r="2.5"/><circle cx="478.18" cy="218.68" r="2.5"/><circle cx="480.63" cy="220.29" r="2.5"/><circle cx="483.08" cy="221.32" r="2.5"/><circle cx="485.53" cy="222.68" r="2.5"/><circle cx="487.98" cy="224.34" r="2.5"/><circle cx="490.43" cy="225.29" r="2.5"/><circle cx="492.88" cy="226.48" r="2.5"/><circle cx="495.33" cy="227.21" r="2.5"/><circle cx="497.77" cy="227.15" r="2.5"/><circle cx="500.22" cy="227.54" r="2.5"/><circle cx="502.67" cy="228.75" r="2.5"/><circle cx="505.12" cy="228.74" r="2.5"/><circle cx="507.57" cy="229.55" r="2.5"/><circle cx="510.02" cy="231.09" r="2.5"/><circle cx="512.47" cy="231.07" r="2.5"/><circle cx="514.92" cy="231.84" r="2.5"/><circle cx="517.37" cy="231.83" r="2.5"/><circle cx="519.82" cy="232.3" r="2.5"/><circle cx="522.26" cy="232.3" r="2.5"/><circle cx="524.71" cy="232.75" r="2.5"/><circle cx="527.16" cy="233.08" r="2.5"/><circle cx="529.61" cy="233.16" r="2.5"/><circle cx="532.06" cy="233.45" r="2.5"/><circle cx="534.51" cy="233.63" r="2.5"/><circle cx="536.96" cy="233.59" r="2.5"/><circle cx="539.41" cy="234.09" r="2.5"/><circle cx="541.86" cy="234.24" r="2.5"/><circle cx="544.31" cy="234.33" r="2.5"/><circle cx="546.75" cy="234.4" r="2.5"/><circle cx="549.2" cy="234.86" r="2.5"/><circle cx="551.65" cy="234.81" r="2.5"/><circle cx="554.1" cy="235.01" r="2.5"/><circle cx="556.55" cy="235.16" r="2.5"/><circle cx="559" cy="235.16" r="2.5"/><circle cx="561.45" cy="235.31" r="2.5"/><circle cx="563.9" cy="235.15" r="2.5"/><circle cx="566.35" cy="235.35" r="2.5"/><circle cx="568.8" cy="235.24" r="2.5"/><circle cx="571.24" cy="235.48" r="2.5"/><circle cx="573.69" cy="235.49" r="2.5"/><circle cx="576.14" cy="235.21" r="2.5"/><circle cx="578.59" cy="235.26" r="2.5"/><circle cx="581.04" cy="235.32" r="2.5"/><circle cx="583.49" cy="235.65" r="2.5"/><circle cx="585.94" cy="235.47" r="2.5"/><circle cx="588.39" cy="235.57" r="2.5"/><circle cx="590.84" cy="235.47" r="2.5"/><circle cx="593.29" cy="235.57" r="2.5"/><circle cx="595.73" cy="235.55" r="2.5"/><circle cx="598.18" cy="235.55" r="2.5"/><circle cx="600.63" cy="235.67" r="2.5"/><circle cx="603.08" cy="235.68" r="2.5"/><circle cx="605.53" cy="235.82" r="2.5"/><circle cx="607.98" cy="235.75" r="2.5"/><circle cx="610.43" cy="235.86" r="2.5"/><circle cx="612.88" cy="235.83" r="2.5"/><circle cx="615.33" cy="235.89" r="2.5"/><circle cx="617.78" cy="235.77" r="2.5"/></g>
<path d="M374.1 76.3L374.71 80.09L375.32 83.65L375.94 86.96L376.55 89.98L377.16 92.74L377.77 95.35L378.39 97.9L379 100.47L379.61 103.02L380.22 105.49L380.83 107.81L381.45 109.93L382.06 111.96L382.67 113.88L383.28 115.65L383.9 117.21L384.51 118.58L385.12 119.82L385.73 120.96L386.35 122.02L386.96 123.02L387.57 123.99L388.18 124.93L388.79 125.83L389.41 126.68L390.02 127.49L390.63 128.26L391.24 128.98L391.86 129.67L392.47 130.33L393.08 130.95L393.69 131.55L394.3 132.13L394.92 132.69L395.53 133.24L396.14 133.78L396.75 134.31L397.37 134.82L397.98 135.32L398.59 135.79L399.2 136.23L399.81 136.65L400.43 137.02L401.04 137.36L401.65 137.68L402.26 137.98L402.88 138.26L403.49 138.55L404.1 138.84L404.71 139.14L405.32 139.47L405.94 139.81L406.55 140.16L407.16 140.52L407.77 140.89L408.39 141.26L409 141.63L409.61 142L410.22 142.36L410.84 142.71L411.45 143.06L412.06 143.41L412.67 143.76L413.28 144.1L413.9 144.45L414.51 144.8L415.12 145.15L415.73 145.5L416.35 145.85L416.96 146.19L417.57 146.53L418.18 146.87L418.79 147.22L419.41 147.57L420.02 147.95L420.63 148.35L421.24 148.77L421.86 149.23L422.47 149.72L423.08 150.23L423.69 150.76L424.3 151.31L424.92 151.87L425.53 152.43L426.14 153L426.75 153.57L427.37 154.15L427.98 154.74L428.59 155.36L429.2 156L429.81 156.67L430.43 157.37L431.04 158.11L431.65 158.87L432.26 159.65L432.88 160.47L433.49 161.31L434.1 162.2L434.71 163.14L435.33 164.09L435.94 165.05L436.55 166L437.16 166.95L437.77 167.9L438.39 168.86L439 169.83L439.61 170.79L440.22 171.76L440.84 172.73L441.45 173.7L442.06 174.68L442.67 175.65L443.28 176.63L443.9 177.61L444.51 178.59L445.12 179.58L445.73 180.58L446.35 181.58L446.96 182.57L447.57 183.57L448.18 184.55L448.79 185.52L449.41 186.47L450.02 187.43L450.63 188.38L451.24 189.32L451.86 190.25L452.47 191.16L453.08 192.06L453.69 192.93L454.3 193.78L454.92 194.6L455.53 195.41L456.14 196.2L456.75 196.99L457.37 197.76L457.98 198.53L458.59 199.3L459.2 200.07L459.82 200.83L460.43 201.59L461.04 202.35L461.65 203.09L462.26 203.82L462.88 204.54L463.49 205.24L464.1 205.94L464.71 206.63L465.33 207.32L465.94 207.99L466.55 208.64L467.16 209.27L467.77 209.86L468.39 210.42L469 210.93L469.61 211.42L470.22 211.88L470.84 212.34L471.45 212.78L472.06 213.24L472.67 213.71L473.28 214.2L473.9 214.72L474.51 215.26L475.12 215.8L475.73 216.33L476.35 216.84L476.96 217.32L477.57 217.76L478.18 218.18L478.79 218.57L479.41 218.95L480.02 219.33L480.63 219.69L481.24 220.05L481.86 220.42L482.47 220.77L483.08 221.12L483.69 221.46L484.31 221.8" stroke="#ff0000" stroke-width="1.45" fill="none"/>
<text x="363.95" y="239.6" font-size="10.3" textLength="6.07" lengthAdjust="spacingAndGlyphs">0</text>
<text x="345.74" y="205.13" font-size="10.3" textLength="24.29" lengthAdjust="spacingAndGlyphs">5000</text>
<text x="339.66" y="170.66" font-size="10.3" textLength="30.36" lengthAdjust="spacingAndGlyphs">10000</text>
<text x="339.66" y="136.19" font-size="10.3" textLength="30.36" lengthAdjust="spacingAndGlyphs">15000</text>
<text x="339.66" y="101.72" font-size="10.3" textLength="30.36" lengthAdjust="spacingAndGlyphs">20000</text>
<text x="339.66" y="67.25" font-size="10.3" textLength="30.36" lengthAdjust="spacingAndGlyphs">25000</text>
<text x="339.66" y="32.78" font-size="10.3" textLength="30.36" lengthAdjust="spacingAndGlyphs">30000</text>
<text x="365.86" y="252.7" font-size="13" textLength="15.47" lengthAdjust="spacingAndGlyphs">50</text>
<text x="422.97" y="252.7" font-size="13" textLength="23.21" lengthAdjust="spacingAndGlyphs">100</text>
<text x="484.19" y="252.7" font-size="13" textLength="23.21" lengthAdjust="spacingAndGlyphs">150</text>
<text x="545.59" y="252.7" font-size="13" textLength="23.21" lengthAdjust="spacingAndGlyphs">200</text>
<text x="606.82" y="252.7" font-size="13" textLength="23.21" lengthAdjust="spacingAndGlyphs">250</text>
<text x="523.49" y="272.4" font-size="13.9" textLength="95.6" lengthAdjust="spacingAndGlyphs">Jet Mass [GeV]</text>
<text transform="translate(330.1 77.71) rotate(-90)" font-size="14.3" textLength="76.78" lengthAdjust="spacingAndGlyphs">Jets / 2 GeV</text>
<text x="387.58" y="32.9" font-size="13.6" font-weight="bold" font-style="italic" textLength="44.85" lengthAdjust="spacingAndGlyphs">ATLAS</text>
<text x="436.26" y="32.9" font-size="13.8" textLength="66.35" lengthAdjust="spacingAndGlyphs">Simulation</text>
<path d="M384.2 48.7L390.1 57" stroke="#111" stroke-width="1.05" fill="none"/>
<path d="M390.6 57V44.3H400.3" stroke="#b4b4b4" stroke-width="0.7" fill="none"/>
<text x="393.22" y="56.7" font-size="13.8" textLength="57.53" lengthAdjust="spacingAndGlyphs">s = 7 TeV</text>
<text x="385.63" y="80.6" font-size="13.8" textLength="8.28" lengthAdjust="spacingAndGlyphs">p</text>
<text x="393.27" y="86.9" font-size="9.6" textLength="6.27" lengthAdjust="spacingAndGlyphs">T</text>
<text x="402.8" y="80.6" font-size="13.8" textLength="67.46" lengthAdjust="spacingAndGlyphs">&gt; 320 GeV</text>
<path d="M387.5 97.2V107.3M402.5 97.4V107.3" stroke="#222" stroke-width="1" fill="none"/>
<path d="M391.2 98.8L392.5 97.7L393.3 98.1V104.3M393.3 99.7C393.9 97.4 397.8 96.9 397.8 99.7V107.6" stroke="#000" stroke-width="1.15" fill="none"/>
<text x="408.8" y="104.3" font-size="13.8" textLength="31.56" lengthAdjust="spacingAndGlyphs">&lt; 1.9</text>
<text x="448.14" y="104.3" font-size="13.8" textLength="50.62" lengthAdjust="spacingAndGlyphs">L &gt; 0.15</text>
<text x="584.09" y="34" font-size="13.8" textLength="17.78" lengthAdjust="spacingAndGlyphs">(b)</text>
<path d="M507.3 64.3H525.6" stroke="#9a9a9a" stroke-width="1.2"/><circle cx="516.5" cy="64.2" r="2.6"/>
<path d="M507.4 79H525.4" stroke="#ff0000" stroke-width="1.3"/>
<text x="529.25" y="67.4" font-size="11.4" textLength="46.63" lengthAdjust="spacingAndGlyphs">QCD jets</text>
<text x="528.85" y="82.1" font-size="11.4" textLength="73.44" lengthAdjust="spacingAndGlyphs">Background fit</text>
</g>
<g>
<path d="M220.25 535.5v-3.5M220.25 298.5v3.5M232.48 535.5v-3.5M232.48 298.5v3.5M244.7 535.5v-7M244.7 298.5v7M256.93 535.5v-3.5M256.93 298.5v3.5M269.16 535.5v-3.5M269.16 298.5v3.5M281.39 535.5v-3.5M281.39 298.5v3.5M293.62 535.5v-7M293.62 298.5v7M305.84 535.5v-3.5M305.84 298.5v3.5M318.07 535.5v-3.5M318.07 298.5v3.5M330.3 535.5v-3.5M330.3 298.5v3.5M342.52 535.5v-7M342.52 298.5v7M354.75 535.5v-3.5M354.75 298.5v3.5M366.98 535.5v-3.5M366.98 298.5v3.5M379.21 535.5v-3.5M379.21 298.5v3.5M391.44 535.5v-7M391.44 298.5v7M403.66 535.5v-3.5M403.66 298.5v3.5M415.89 535.5v-3.5M415.89 298.5v3.5M428.12 535.5v-3.5M428.12 298.5v3.5M440.35 535.5v-7M440.35 298.5v7M452.57 535.5v-3.5M452.57 298.5v3.5M464.8 535.5v-3.5M464.8 298.5v3.5M220.4 535.4h7M465.4 535.4h-7M220.4 528.5h3.5M465.4 528.5h-3.5M220.4 521.61h3.5M465.4 521.61h-3.5M220.4 514.71h3.5M465.4 514.71h-3.5M220.4 507.82h3.5M465.4 507.82h-3.5M220.4 500.92h7M465.4 500.92h-7M220.4 494.02h3.5M465.4 494.02h-3.5M220.4 487.13h3.5M465.4 487.13h-3.5M220.4 480.23h3.5M465.4 480.23h-3.5M220.4 473.34h3.5M465.4 473.34h-3.5M220.4 466.44h7M465.4 466.44h-7M220.4 459.54h3.5M465.4 459.54h-3.5M220.4 452.65h3.5M465.4 452.65h-3.5M220.4 445.75h3.5M465.4 445.75h-3.5M220.4 438.86h3.5M465.4 438.86h-3.5M220.4 431.96h7M465.4 431.96h-7M220.4 425.06h3.5M465.4 425.06h-3.5M220.4 418.17h3.5M465.4 418.17h-3.5M220.4 411.27h3.5M465.4 411.27h-3.5M220.4 404.38h3.5M465.4 404.38h-3.5M220.4 397.48h7M465.4 397.48h-7M220.4 390.58h3.5M465.4 390.58h-3.5M220.4 383.69h3.5M465.4 383.69h-3.5M220.4 376.79h3.5M465.4 376.79h-3.5M220.4 369.9h3.5M465.4 369.9h-3.5M220.4 363h7M465.4 363h-7M220.4 356.1h3.5M465.4 356.1h-3.5M220.4 349.21h3.5M465.4 349.21h-3.5M220.4 342.31h3.5M465.4 342.31h-3.5M220.4 335.42h3.5M465.4 335.42h-3.5M220.4 328.52h7M465.4 328.52h-7M220.4 321.62h3.5M465.4 321.62h-3.5M220.4 314.73h3.5M465.4 314.73h-3.5M220.4 307.83h3.5M465.4 307.83h-3.5M220.4 300.94h3.5M465.4 300.94h-3.5" stroke="#777" stroke-width="1" fill="none"/>
<path d="M220.4 535.5V298.5H465.4V535.5" stroke="#8c8c8c" stroke-width="1" fill="none"/>
<path d="M219.9 535.5H465.9" stroke="#505050" stroke-width="1.2" fill="none"/>
<path d="M222.7 522.23V526.97M227.59 521.78V526.62M232.48 519.9V525.1M237.37 522.23V526.97M242.26 516.4V522.2M247.15 516.4V522.2M252.04 520.46V525.54M256.93 514.66V520.74M261.82 514.23V520.37M266.71 508.61V515.59M271.61 500.38V508.42M276.5 500.91V508.89M281.39 491.25V500.35M286.28 473.57V484.43M291.17 467.19V478.61M296.06 464.37V476.03M300.95 432.53V446.67M305.84 409.24V424.96M310.73 414.82V430.18M315.62 422.38V437.22M320.52 424.45V439.15M325.41 430.25V444.55M330.3 454.87V467.33M335.19 461.23V473.17M340.08 470.75V481.85M344.97 479.66V489.94M349.86 481.24V491.36M354.75 481.76V491.84M359.64 500.8V508.8M364.53 492.63V501.57M369.43 500.91V508.89M374.32 500.91V508.89M379.21 492.95V501.85M384.1 503.36V511.04M388.99 508.08V515.12M393.88 507.11V514.29M398.77 510.33V517.07M403.66 519.79V525.01M408.55 523.67V528.13M413.44 515.97V521.83M418.34 521.67V526.53M423.23 514.99V521.01M428.12 518.26V523.74M433.01 523.23V527.77M437.9 522.67V527.33M442.79 524.57V528.83M447.68 527.17V530.83M452.57 522.34V527.06M457.46 528.55V531.85M462.35 524.23V528.57" stroke="#999" stroke-width="1.1"/>
<g><circle cx="222.7" cy="524.9" r="2.2"/><circle cx="227.59" cy="524.5" r="2.2"/><circle cx="232.48" cy="522.8" r="2.2"/><circle cx="237.37" cy="524.9" r="2.2"/><circle cx="242.26" cy="519.6" r="2.2"/><circle cx="247.15" cy="519.6" r="2.2"/><circle cx="252.04" cy="523.3" r="2.2"/><circle cx="256.93" cy="518" r="2.2"/><circle cx="261.82" cy="517.6" r="2.2"/><circle cx="266.71" cy="512.4" r="2.2"/><circle cx="271.61" cy="504.7" r="2.2"/><circle cx="276.5" cy="505.2" r="2.2"/><circle cx="281.39" cy="496.1" r="2.2"/><circle cx="286.28" cy="479.3" r="2.2"/><circle cx="291.17" cy="473.2" r="2.2"/><circle cx="296.06" cy="470.5" r="2.2"/><circle cx="300.95" cy="439.9" r="2.2"/><circle cx="305.84" cy="417.4" r="2.2"/><circle cx="310.73" cy="422.8" r="2.2"/><circle cx="315.62" cy="430.1" r="2.2"/><circle cx="320.52" cy="432.1" r="2.2"/><circle cx="325.41" cy="437.7" r="2.2"/><circle cx="330.3" cy="461.4" r="2.2"/><circle cx="335.19" cy="467.5" r="2.2"/><circle cx="340.08" cy="476.6" r="2.2"/><circle cx="344.97" cy="485.1" r="2.2"/><circle cx="349.86" cy="486.6" r="2.2"/><circle cx="354.75" cy="487.1" r="2.2"/><circle cx="359.64" cy="505.1" r="2.2"/><circle cx="364.53" cy="497.4" r="2.2"/><circle cx="369.43" cy="505.2" r="2.2"/><circle cx="374.32" cy="505.2" r="2.2"/><circle cx="379.21" cy="497.7" r="2.2"/><circle cx="384.1" cy="507.5" r="2.2"/><circle cx="388.99" cy="511.9" r="2.2"/><circle cx="393.88" cy="511" r="2.2"/><circle cx="398.77" cy="514" r="2.2"/><circle cx="403.66" cy="522.7" r="2.2"/><circle cx="408.55" cy="526.2" r="2.2"/><circle cx="413.44" cy="519.2" r="2.2"/><circle cx="418.34" cy="524.4" r="2.2"/><circle cx="423.23" cy="518.3" r="2.2"/><circle cx="428.12" cy="521.3" r="2.2"/><circle cx="433.01" cy="525.8" r="2.2"/><circle cx="437.9" cy="525.3" r="2.2"/><circle cx="442.79" cy="527" r="2.2"/><circle cx="447.68" cy="529.3" r="2.2"/><circle cx="452.57" cy="525" r="2.2"/><circle cx="457.46" cy="530.5" r="2.2"/><circle cx="462.35" cy="526.7" r="2.2"/></g>
<text x="208.13" y="540" font-size="13" textLength="7.81" lengthAdjust="spacingAndGlyphs">0</text>
<text x="200.34" y="505.52" font-size="13" textLength="15.62" lengthAdjust="spacingAndGlyphs">50</text>
<text x="192.51" y="471.04" font-size="13" textLength="23.43" lengthAdjust="spacingAndGlyphs">100</text>
<text x="192.51" y="436.56" font-size="13" textLength="23.43" lengthAdjust="spacingAndGlyphs">150</text>
<text x="192.51" y="402.08" font-size="13" textLength="23.43" lengthAdjust="spacingAndGlyphs">200</text>
<text x="192.51" y="367.6" font-size="13" textLength="23.43" lengthAdjust="spacingAndGlyphs">250</text>
<text x="192.51" y="333.12" font-size="13" textLength="23.43" lengthAdjust="spacingAndGlyphs">300</text>
<text x="236.57" y="550.4" font-size="13" textLength="15.33" lengthAdjust="spacingAndGlyphs">60</text>
<text x="285.53" y="550.4" font-size="13" textLength="15.33" lengthAdjust="spacingAndGlyphs">80</text>
<text x="330.38" y="550.4" font-size="13" textLength="22.99" lengthAdjust="spacingAndGlyphs">100</text>
<text x="379.29" y="550.4" font-size="13" textLength="22.99" lengthAdjust="spacingAndGlyphs">120</text>
<text x="428.2" y="550.4" font-size="13" textLength="22.99" lengthAdjust="spacingAndGlyphs">140</text>
<text x="369.79" y="569.6" font-size="13.9" textLength="95.6" lengthAdjust="spacingAndGlyphs">Jet Mass [GeV]</text>
<text transform="translate(183.9 375) rotate(-90)" font-size="14" textLength="75.07" lengthAdjust="spacingAndGlyphs">Jets / 2 GeV</text>
<text x="233.58" y="331.6" font-size="13.6" font-weight="bold" font-style="italic" textLength="44.85" lengthAdjust="spacingAndGlyphs">ATLAS</text>
<text x="282.26" y="331.6" font-size="13.8" textLength="66.35" lengthAdjust="spacingAndGlyphs">Simulation</text>
<path d="M230.2 347.4L236.1 355.7" stroke="#111" stroke-width="1.05" fill="none"/>
<path d="M236.6 355.7V343H246.3" stroke="#b4b4b4" stroke-width="0.7" fill="none"/>
<text x="239.22" y="355.4" font-size="13.8" textLength="57.53" lengthAdjust="spacingAndGlyphs">s = 7 TeV</text>
<text x="231.63" y="379.9" font-size="13.8" textLength="8.28" lengthAdjust="spacingAndGlyphs">p</text>
<text x="239.27" y="386.2" font-size="9.6" textLength="6.27" lengthAdjust="spacingAndGlyphs">T</text>
<text x="248.8" y="379.9" font-size="13.8" textLength="67.46" lengthAdjust="spacingAndGlyphs">&gt; 320 GeV</text>
<path d="M233.5 395.9V406M248.5 396.1V406" stroke="#222" stroke-width="1" fill="none"/>
<path d="M237.2 397.5L238.5 396.4L239.3 396.8V403M239.3 398.4C239.9 396.1 243.8 395.6 243.8 398.4V406.3" stroke="#000" stroke-width="1.15" fill="none"/>
<text x="254.8" y="403" font-size="13.8" textLength="31.56" lengthAdjust="spacingAndGlyphs">&lt; 1.9</text>
<text x="232.14" y="426.7" font-size="13.8" textLength="50.52" lengthAdjust="spacingAndGlyphs">L &gt; 0.15</text>
<text x="429.87" y="331.7" font-size="13.8" textLength="17.34" lengthAdjust="spacingAndGlyphs">(c)</text>
<path d="M353.1 362.5H372" stroke="#777" stroke-width="1"/><circle cx="362.5" cy="362.4" r="2.4"/>
<text x="375.85" y="366.1" font-size="11.4" textLength="61.56" lengthAdjust="spacingAndGlyphs">Top Pair MC</text>
</g>
</svg>
</body></html>
